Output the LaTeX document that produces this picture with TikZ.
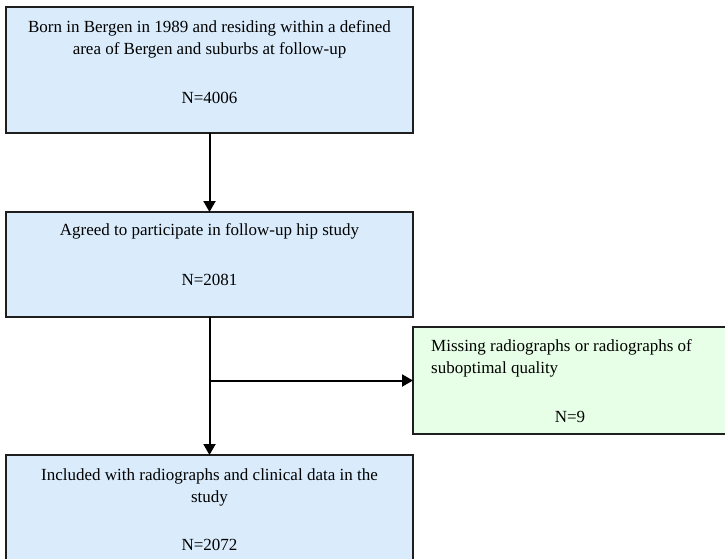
\documentclass[tikz,border=0pt]{standalone}
\usepackage{fontspec}
\setmainfont{Liberation Serif}
\usetikzlibrary{arrows.meta}
\definecolor{boxblue}{RGB}{218,236,252}
\definecolor{boxgreen}{RGB}{230,255,230}
\definecolor{edgecol}{RGB}{30,30,30}
\tikzset{
  bluebox/.style={draw=edgecol, fill=boxblue, line width=1.6pt, inner sep=0pt, outer sep=0pt},
  greenbox/.style={draw=edgecol, fill=boxgreen, line width=1.6pt, inner sep=0pt, outer sep=0pt},
  txt/.style={inner sep=0pt, font=\fontsize{17}{21.5}\selectfont, text=black},
  arr/.style={line width=2pt, draw=black, -{Triangle[length=11pt,width=12pt]}},
}
\begin{document}
\begin{tikzpicture}[x=1pt,y=1pt]
\useasboundingbox (0,0) rectangle (725,-558);
\clip (0,0) rectangle (725,-558);
\fill[white] (0,0) rectangle (725,-558);
% boxes
\node[bluebox, minimum width=407pt, minimum height=126pt] (b1) at (209.5,-70) {};
\node[bluebox, minimum width=407pt, minimum height=105pt] (b2) at (209.5,-264.5) {};
\node[bluebox, minimum width=407pt, minimum height=126pt] (b3) at (209.5,-518) {};
\node[greenbox, minimum width=324pt, minimum height=107pt] (side) at (575,-380.5) {};
% texts
\node[txt, anchor=base] (t1a) at (209.5,-32) {Born in Bergen in 1989 and residing within a defined};
\node[txt, anchor=base] (t1b) at (209.5,-54) {area of Bergen and suburbs at follow-up};
\node[txt, anchor=base] (t1c) at (209.5,-103) {N=4006};
\node[txt, anchor=base] (t2a) at (209.5,-235) {Agreed to participate in follow-up hip study};
\node[txt, anchor=base] (t2b) at (209.5,-285) {N=2081};
\node[txt, anchor=base] (t3a) at (209.5,-480) {Included with radiographs and clinical data in the};
\node[txt, anchor=base] (t3b) at (209.5,-502) {study};
\node[txt, anchor=base] (t3c) at (209.5,-550) {N=2072};
\node[txt, anchor=base west] (sa) at (431,-351) {Missing radiographs or radiographs of};
\node[txt, anchor=base west] (sb) at (431,-373) {suboptimal quality};
\node[txt, anchor=base] (sc) at (570,-422) {N=9};
% connectors
\draw[arr] (b1.south) -- (b2.north);
\draw[arr] (b2.south) -- (b3.north);
\coordinate (j) at (b2.south |- side.west);
\draw[arr] (j) -- (side.west);
\end{tikzpicture}
\end{document}
